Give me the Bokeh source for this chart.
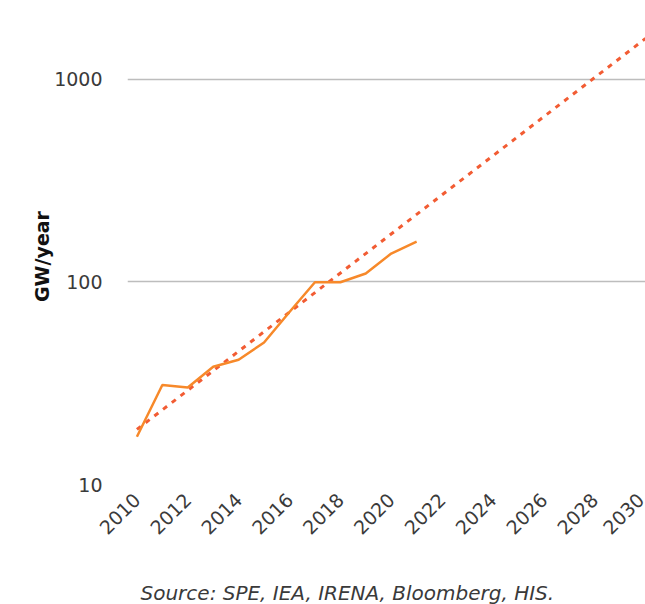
from bokeh.plotting import figure
from bokeh.models import FixedTicker, NumeralTickFormatter, Range1d, Title
from bokeh.embed import file_html
from bokeh.resources import INLINE
import math

# Data
years = [2010, 2011, 2012, 2013, 2014, 2015, 2016, 2017, 2018, 2019, 2020, 2021]
gw_per_year = [17.2, 31.0, 30.1, 38.1, 41.3, 50.2, 71.0, 99.6, 99.6, 110, 138, 158]
trend_years = [2010, 2030]
trend_values = [18.7, 1590]
x_ticks = [2010, 2012, 2014, 2016, 2018, 2020, 2022, 2024, 2026, 2028, 2030]
y_ticks = [10, 100, 1000]
source_text = "Source: SPE, IEA, IRENA, Bloomberg, HIS."

FONT = "DejaVu Sans"

p = figure(width=645, height=604, y_axis_type="log",
           x_range=Range1d(2009.63, 2030.0), y_range=Range1d(10, 1782),
           output_backend="svg", toolbar_location=None,
           min_border_left=127, min_border_right=0, min_border_top=28,
           min_border_bottom=119)
p.outline_line_color = None
p.background_fill_color = "white"
p.border_fill_color = "white"

p.line(trend_years, trend_values, line_color="#F25C33", line_width=3,
       line_dash="5 6")
p.line(years, gw_per_year, line_color="#F7892A", line_width=2.5)

p.xgrid.grid_line_color = None
p.ygrid.grid_line_color = "#bdbdbd"
p.ygrid.grid_line_width = 1.5
p.ygrid.ticker = FixedTicker(ticks=y_ticks)

xax = p.xaxis[0]
yax = p.yaxis[0]
yax.ticker = FixedTicker(ticks=y_ticks)
yax.formatter = NumeralTickFormatter(format="0")
xax.ticker = FixedTicker(ticks=x_ticks)
for ax in (xax, yax):
    ax.axis_line_color = None
    ax.major_tick_line_color = None
    ax.minor_tick_line_color = None
    ax.major_label_text_font = FONT
    ax.major_label_text_font_size = "19px"
    ax.major_label_text_color = "#3a3a3a"

yax.major_label_standoff = 19
yax.axis_label = "GW/year"
yax.axis_label_text_font = FONT
yax.axis_label_text_font_style = "bold"
yax.axis_label_text_font_size = "19px"
yax.axis_label_text_color = "#111111"
yax.axis_label_standoff = -2

xax.major_label_orientation = math.pi / 4
xax.major_label_standoff = 6
# blank x-axis label used only as vertical spacing above the source line
xax.axis_label = " "
xax.axis_label_text_font = FONT
xax.axis_label_text_font_size = "20px"
xax.axis_label_standoff = 8

src = Title(text=source_text, align="left", offset=13, vertical_align="bottom",
            text_font=FONT, text_font_size="20px", text_font_style="italic",
            text_color="#3a3a3a", standoff=0)
p.add_layout(src, "below")

open("out.html", "w").write(file_html(p, INLINE))
